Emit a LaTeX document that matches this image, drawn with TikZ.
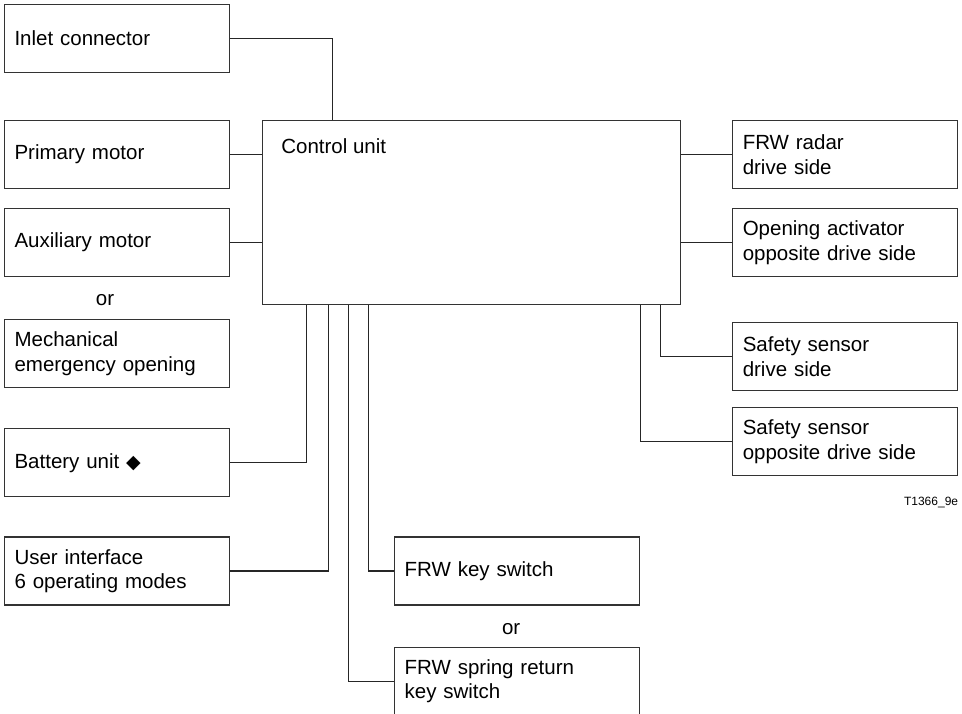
\documentclass[tikz,border=0pt]{standalone}
\usepackage{fontspec}
\setmainfont{Liberation Sans}
\newfontfamily\symfnt{DejaVu Sans}
\usetikzlibrary{positioning,calc}
\tikzstyle{ubox}=[rectangle, draw=black!80, line width=1.1pt, minimum height=68pt, inner xsep=10pt, inner ysep=2pt, text width=205pt, align=left, font=\fontsize{20.5}{24.5}\selectfont]
\tikzstyle{kbox}=[ubox, text width=225pt]
\tikzstyle{cbox}=[rectangle, draw=black!80, line width=1.1pt, minimum width=418pt, minimum height=184pt, inner sep=0pt]
\tikzstyle{pline}=[-, line width=1.1pt, black!85]
\tikzstyle{ortext}=[inner sep=0pt, font=\fontsize{20.5}{24.5}\selectfont]
\tikzstyle{tagtext}=[inner sep=0pt, font=\fontsize{12}{14}\selectfont]
\begin{document}
\begin{tikzpicture}[x=1pt,y=1pt]
\useasboundingbox (0,0) rectangle (962,-713);
% left column
\node (PM) [ubox, anchor=north west] at (4,-120) {Primary motor};
\node (INL) [ubox, above=47pt of PM] {Inlet connector};
\node (AUX) [ubox, below=19pt of PM] {Auxiliary motor};
\node (OR1) [ortext, below=17pt of AUX, xshift=-12pt] {or};
\node (MEO) [ubox, below=42pt of AUX] {Mechanical\\emergency opening};
\node (BAT) [ubox, below=40pt of MEO] {Battery unit {\symfnt\fontsize{19}{20}\selectfont ◆}};
\node (UI) [ubox, below=39pt of BAT] {User interface\\6 operating modes};
% control unit
\node (CU) [cbox, right=32pt of PM.north east, anchor=north west] {};
\node (CUlbl) [ortext, anchor=base west] at ($(CU.north west)+(19,-33)$) {Control unit};
\coordinate (CUin) at ($(CU.north west)+(70,0)$);
 \draw[pline] (INL.east) -| (CUin);
 \draw[pline] (PM.east) -- (PM.east -| CU.west);
 \draw[pline] (AUX.east) -- (AUX.east -| CU.west);
\coordinate (CUbat) at ($(CU.south west)+(44,0)$);
 \draw[pline] (BAT.east) -| (CUbat);
\coordinate (CUui) at ($(CU.south west)+(66,0)$);
 \draw[pline] (UI.east) -| (CUui);
% key switches
\node (KS) [kbox, right=164pt of UI] {FRW key switch};
\coordinate (CUks) at ($(CU.south west)+(106,0)$);
 \draw[pline] (KS.west) -| (CUks);
\node (OR2) [ortext, below=18pt of KS, xshift=-6pt] {or};
\node (SRK) [kbox, below=41pt of KS] {FRW spring return\\key switch};
\coordinate (CUsrk) at ($(CU.south west)+(86,0)$);
 \draw[pline] (SRK.west) -| (CUsrk);
% right column
\node (FRW) [ubox, right=51pt of CU.north east, anchor=north west] {FRW radar\\drive side};
 \draw[pline] (FRW.west) -- (FRW.west -| CU.east);
\node (OPA) [ubox, below=19pt of FRW] {Opening activator\\opposite drive side};
 \draw[pline] (OPA.west) -- (OPA.west -| CU.east);
\node (SSD) [ubox, below=45pt of OPA] {Safety sensor\\drive side};
\coordinate (CUssd) at ($(CU.south east)+(-21,0)$);
 \draw[pline] (SSD.west) -| (CUssd);
\node (SSO) [ubox, below=16pt of SSD] {Safety sensor\\opposite drive side};
\coordinate (CUsso) at ($(CU.south east)+(-41,0)$);
 \draw[pline] (SSO.west) -| (CUsso);
\node (TAG) [tagtext, below=21pt of SSO.south east, anchor=north east] {T1366\_9e};
\end{tikzpicture}
\end{document}
